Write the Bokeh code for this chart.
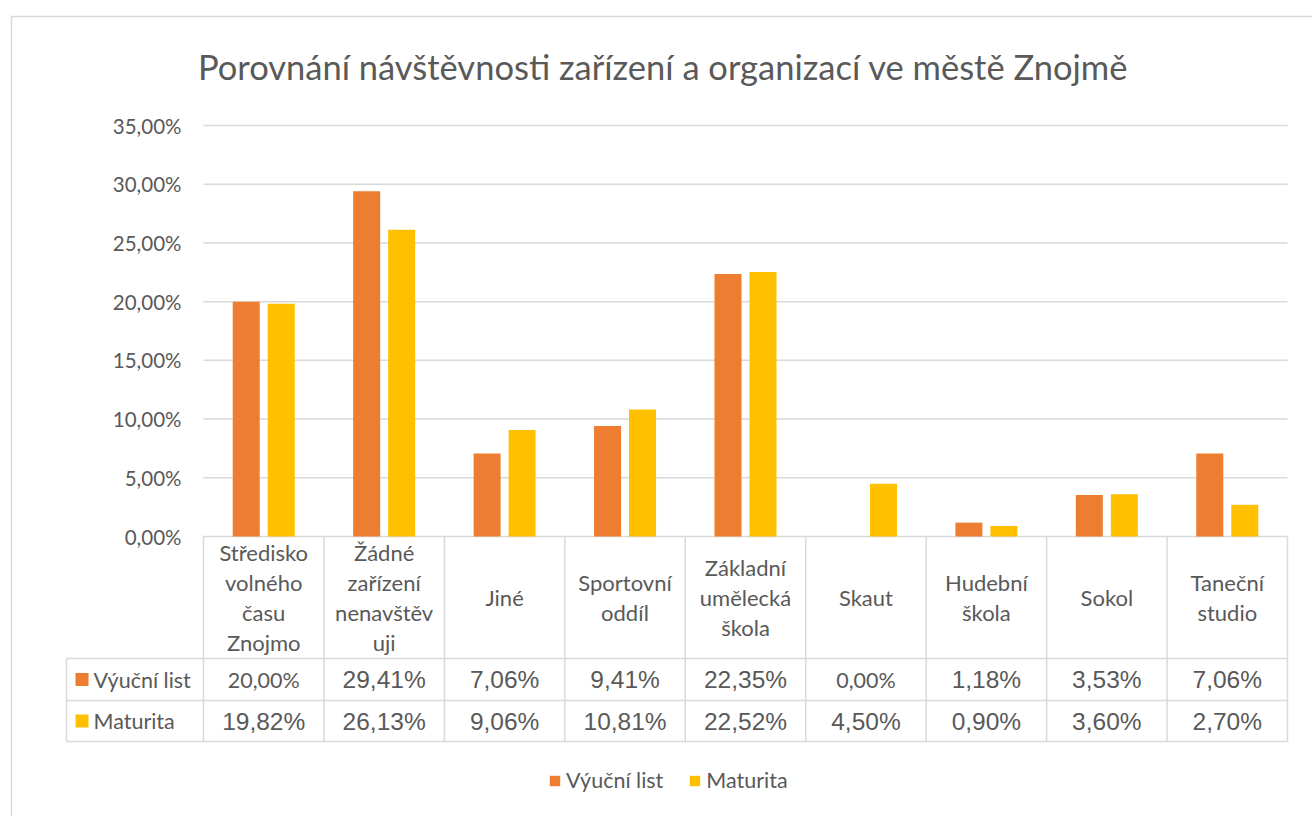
from bokeh.plotting import figure
from bokeh.models import (ColumnDataSource, LinearAxis, FixedTicker, CustomJSTickFormatter,
                          Range1d, Legend, LegendItem)
from bokeh.transform import dodge
from bokeh.core.properties import value
from bokeh.embed import file_html
from bokeh.resources import INLINE

# ---------------- data ----------------
title_text = "Porovnání návštěvnosti  zařízení a organizací ve městě Znojmě"
categories = ["Středisko\nvolného\nčasu\nZnojmo", "Žádné\nzařízení\nnenavštěv\nuji", "Jiné",
              "Sportovní\noddíl", "Základní\numělecká\nškola", "Skaut", "Hudební\nškola",
              "Sokol", "Taneční\nstudio"]
series_names = ["Výuční list", "Maturita"]
vyucni_list = [20.00, 29.41, 7.06, 9.41, 22.35, 0.00, 1.18, 3.53, 7.06]
maturita = [19.82, 26.13, 9.06, 10.81, 22.52, 4.50, 0.90, 3.60, 2.70]
y_ticks = [0, 5, 10, 15, 20, 25, 30, 35]

# ---------------- style ----------------
colors = ["#ED7D31", "#FFC000"]
TXT = "#595959"
LINE = "#D9D9D9"
CAL = "Lato"
ARI = "Liberation Sans"
# per-cell font style of the data table (row 1 / row 2)
cell_fonts = [[CAL, ARI, ARI, ARI, ARI, CAL, ARI, ARI, ARI],
              [ARI] * 9]

W, H = 1312, 816
PAGE = 0
PX0, PX1 = 203, 1287          # plot area left / right (page px)
PY0, PYT = 536, 125           # 0 % and 35 % (page px)
n = len(categories)
PXU = (PX1 - PX0) / n
PYU = (PY0 - PYT) / 35.0


def dx(px):
    return (px - PX0) / PXU


def dy(py):
    return (PY0 - py) / PYU


p = figure(width=W, height=H,
           x_range=Range1d(dx(PAGE), dx(PAGE + W)),
           y_range=Range1d(dy(PAGE + H), dy(PAGE)),
           x_axis_type=None, y_axis_type=None,
           toolbar_location=None, output_backend="svg",
           min_border=0, outline_line_color=None)
p.background_fill_color = "white"
p.border_fill_color = "white"

# chart border
p.segment(x0=[dx(11), dx(11)], y0=[dy(16), dy(16)], x1=[dx(PAGE + W), dx(11)],
          y1=[dy(16), dy(PAGE + H)], line_color=LINE, line_width=1.5)

# gridlines
p.segment(x0=0, x1=n, y0=y_ticks, y1=y_ticks, line_color=LINE, line_width=1.5)

# bars
xc = [i + 0.5 for i in range(n)]
src = ColumnDataSource(dict(x=xc, v1=vyucni_list, v2=maturita))
off = 17.5 / PXU
bw = 27.0 / PXU
r1 = p.vbar(x=dodge("x", -off, range=p.x_range), top="v1", width=bw, source=src,
            fill_color=colors[0], line_color=None)
r2 = p.vbar(x=dodge("x", off, range=p.x_range), top="v2", width=bw, source=src,
            fill_color=colors[1], line_color=None)

# y axis
yaxis = LinearAxis(fixed_location=0, ticker=FixedTicker(ticks=y_ticks),
                   formatter=CustomJSTickFormatter(
                       code="return tick.toFixed(2).replace('.', ',') + '%';"))
yaxis.axis_line_color = None
yaxis.major_tick_line_color = None
yaxis.minor_tick_line_color = None
yaxis.major_tick_in = 0
yaxis.major_tick_out = 0
yaxis.major_label_standoff = 22
yaxis.major_label_text_font = CAL
yaxis.major_label_text_font_size = "20.5px"
yaxis.major_label_text_color = TXT
p.add_layout(yaxis, "left")

# data table lines
ROW_T, ROW_1, ROW_2, ROW_B = 536, 658, 700, 741
TL = 66
hx0 = [dx(TL)] * 3
hx1 = [n] * 3
hy = [dy(ROW_1), dy(ROW_2), dy(ROW_B)]
vx = list(range(n + 1)) + [dx(TL)]
vy0 = [dy(ROW_T)] * (n + 1) + [dy(ROW_1)]
vy1 = [dy(ROW_B)] * (n + 2)
p.segment(x0=hx0, x1=hx1, y0=hy, y1=hy, line_color=LINE, line_width=1.5)
p.segment(x0=vx, x1=vx, y0=vy0, y1=vy1, line_color=LINE, line_width=1.5)

# category header cells
p.text(x=xc, y=[dy((ROW_T + ROW_1) / 2)] * n, text=categories,
       text_align="center", text_baseline="middle", text_font=value(CAL),
       text_font_size="22px", text_color=TXT, text_line_height=1.12)

# table values
def fmt(v):
    return ("%.2f" % v).replace(".", ",") + "%"

rows = [vyucni_list, maturita]
row_y = [dy((ROW_1 + ROW_2) / 2), dy((ROW_2 + ROW_B) / 2)]
tx, ty, tt, tf, ts = [], [], [], [], []
for r, vals in enumerate(rows):
    for i, v in enumerate(vals):
        tx.append(i + 0.5)
        ty.append(row_y[r])
        tt.append(fmt(v))
        tf.append(cell_fonts[r][i])
        ts.append("21.5px" if cell_fonts[r][i] == CAL else "24.5px")
tsrc = ColumnDataSource(dict(x=tx, y=ty, t=tt, f=tf, s=ts))
p.text(x="x", y="y", text="t", text_font="f", text_font_size="s", source=tsrc,
       text_align="center", text_baseline="middle", text_color=TXT)

# row headers
p.rect(x=[dx(81.5)] * 2, y=row_y, width=13, height=13, width_units="screen",
       height_units="screen", fill_color=colors, line_color=None)
p.text(x=[dx(93)] * 2, y=row_y, text=series_names, text_align="left",
       text_baseline="middle", text_font=value(CAL), text_font_size="21.5px",
       text_color=TXT)

# title
p.text(x=[dx(667)], y=[dy(66)], text=[title_text], text_align="center",
       text_baseline="middle", text_font=value(CAL), text_font_size="34.5px",
       text_color=TXT)

# legend
legend = Legend(items=[LegendItem(label=series_names[0], renderers=[r1]),
                       LegendItem(label=series_names[1], renderers=[r2])],
                orientation="horizontal", location=(548, 23))
legend.glyph_width = 13
legend.glyph_height = 13
legend.label_standoff = 5
legend.spacing = 25
legend.padding = 0
legend.margin = 0
legend.border_line_color = None
legend.background_fill_alpha = 0
legend.label_text_font = CAL
legend.label_text_font_size = "21.5px"
legend.label_text_color = TXT
p.add_layout(legend)

open("out.html", "w").write(file_html(p, INLINE))
